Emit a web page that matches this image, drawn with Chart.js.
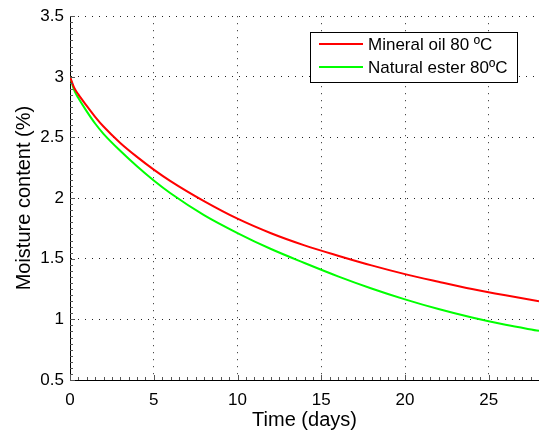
<!DOCTYPE html>
<html>
<head>
<meta charset="utf-8">
<script src="https://cdn.jsdelivr.net/npm/chart.js@4"></script>
<style>
  html, body { margin: 0; padding: 0; background: #fff; }
  #wrap { width: 539px; height: 431px; }
</style>
</head>
<body>
<div id="wrap"><canvas id="chart" width="539" height="431"></canvas></div>
<script>
// Data
const days = [0, 0.25, 0.5, 1, 1.5, 2, 3, 4, 5, 6, 8, 10, 12, 14, 16, 18, 20, 22, 24, 26, 28];
const mineralOil = [3.0, 2.91, 2.855, 2.76, 2.67, 2.59, 2.455, 2.34, 2.235, 2.14, 1.975, 1.83, 1.71, 1.61, 1.525, 1.445, 1.373, 1.31, 1.25, 1.198, 1.15];
const naturalEster = [3.0, 2.89, 2.825, 2.715, 2.615, 2.53, 2.39, 2.262, 2.145, 2.04, 1.86, 1.712, 1.58, 1.465, 1.355, 1.255, 1.165, 1.085, 1.015, 0.955, 0.905];
const seriesNames = ["Mineral oil 80 ºC", "Natural ester 80ºC"];
const xTicks = [0, 5, 10, 15, 20, 25];
const yTicks = [0.5, 1, 1.5, 2, 2.5, 3, 3.5];

const FONT = "'Liberation Sans', Arial, sans-serif";
const toPts = ys => days.map((d, i) => ({ x: d, y: ys[i] }));

// minor ticks along the left and bottom axes, matlab style
const minorTicks = {
  id: "minorTicks",
  afterDatasetsDraw(chart) {
    const { ctx, chartArea: a, scales: { x, y } } = chart;
    ctx.save();
    ctx.strokeStyle = "#555";
    ctx.lineWidth = 1;
    ctx.beginPath();
    for (let v = 0; v <= 28; v += 0.5) {
      const px = Math.round(x.getPixelForValue(v)) + 0.5;
      const len = v % 5 === 0 ? 5 : 3;
      ctx.moveTo(px, a.bottom); ctx.lineTo(px, a.bottom - len);
    }
    for (let v = 0.5; v <= 3.5001; v += 0.05) {
      const py = Math.round(y.getPixelForValue(v)) + 0.5;
      const len = Math.abs(v * 2 - Math.round(v * 2)) < 1e-6 ? 5 : 3;
      ctx.moveTo(a.left, py); ctx.lineTo(a.left + len, py);
    }
    ctx.stroke();
    ctx.restore();
  }
};

// boxed legend in the top right corner
const boxLegend = {
  id: "boxLegend",
  afterDraw(chart) {
    const ctx = chart.ctx;
    const bx = 310, by = 32, bw = 207, bh = 50;
    ctx.save();
    ctx.fillStyle = "#fff";
    ctx.fillRect(bx, by, bw, bh);
    ctx.strokeStyle = "#000";
    ctx.lineWidth = 1;
    ctx.strokeRect(bx + 0.5, by + 0.5, bw, bh);
    ctx.font = "17px " + FONT;
    ctx.textBaseline = "middle";
    chart.data.datasets.forEach((ds, i) => {
      const ly = by + 12 + i * 23;
      ctx.strokeStyle = ds.borderColor;
      ctx.lineWidth = 2;
      ctx.beginPath();
      ctx.moveTo(bx + 9, ly); ctx.lineTo(bx + 53, ly);
      ctx.stroke();
      ctx.fillStyle = "#000";
      ctx.fillText(ds.label, bx + 58, ly + 1);
    });
    ctx.restore();
  }
};

const grid = {
  color: "#222",
  lineWidth: 1,
  drawTicks: false,
};

new Chart(document.getElementById("chart"), {
  type: "line",
  data: {
    datasets: [
      { label: seriesNames[0], data: toPts(mineralOil), borderColor: "#ff0000", borderWidth: 2, pointRadius: 0, tension: 0.4, cubicInterpolationMode: "monotone" },
      { label: seriesNames[1], data: toPts(naturalEster), borderColor: "#00ff00", borderWidth: 2, pointRadius: 0, tension: 0.4, cubicInterpolationMode: "monotone" }
    ]
  },
  options: {
    responsive: false,
    animation: false,
    layout: { padding: { top: 8, right: 0, left: 0, bottom: 0 } },
    plugins: { legend: { display: false }, tooltip: { enabled: false } },
    scales: {
      x: {
        type: "linear",
        min: 0, max: 28,
        afterBuildTicks: s => { s.ticks = xTicks.map(v => ({ value: v })); },
        afterFit: s => { s.height = 51; },
        grid: grid,
        border: { display: true, color: "#000", width: 1, dash: [1, 6] },
        ticks: { color: "#000", font: { family: FONT, size: 17 }, padding: 10, maxRotation: 0, callback: v => String(v) },
        title: { display: true, text: "Time (days)", color: "#000", font: { family: FONT, size: 20 }, padding: { top: 0, bottom: -1 } }
      },
      y: {
        min: 0.5, max: 3.5,
        afterBuildTicks: s => { s.ticks = yTicks.map(v => ({ value: v })); },
        afterFit: s => { s.width = 70; },
        grid: grid,
        border: { display: true, color: "#000", width: 1, dash: [1, 6] },
        ticks: { color: "#000", font: { family: FONT, size: 17 }, padding: 6, callback: v => String(v) },
        title: { display: true, text: "Moisture content (%)", color: "#000", font: { family: FONT, size: 20 }, padding: { top: 12, bottom: 0 } }
      }
    }
  },
  plugins: [minorTicks, boxLegend]
});
</script>
</body>
</html>
